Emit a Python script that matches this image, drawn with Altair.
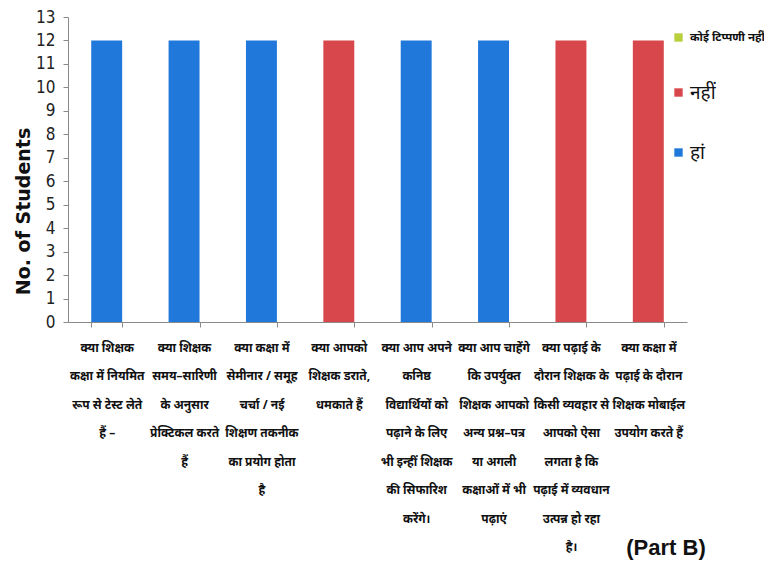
import altair as alt
import pandas as pd

questions = [
    "क्या शिक्षक|कक्षा में नियमित|रूप से टेस्ट लेते|हैं –",
    "क्या शिक्षक|समय–सारिणी|के अनुसार|प्रेक्टिकल करते|हैं",
    "क्या कक्षा में|सेमीनार / समूह|चर्चा / नई|शिक्षण तकनीक|का प्रयोग होता|है",
    "क्या आपको|शिक्षक डराते,|धमकाते हैं",
    "क्या आप अपने|कनिष्ठ|विद्यार्थियों को|पढ़ाने के लिए|भी इन्हीं शिक्षक|की सिफारिश|करेंगे।",
    "क्या आप चाहेंगे|कि उपर्युक्त|शिक्षक आपको|अन्य प्रश्न–पत्र|या अगली|कक्षाओं में भी|पढ़ाएं",
    "क्या पढ़ाई के|दौरान शिक्षक के|किसी व्यवहार से|आपको ऐसा|लगता है कि|पढ़ाई में व्यवधान|उत्पन्न हो रहा|है।",
    "क्या कक्षा में|पढ़ाई के दौरान|शिक्षक मोबाईल|उपयोग करते हैं",
]
answers = ["हां", "हां", "हां", "नहीं", "हां", "हां", "नहीं", "नहीं"]
students = [12, 12, 12, 12, 12, 12, 12, 12]

legend_order = ["कोई टिप्पणी नहीं", "नहीं", "हां"]
legend_colors = ["#B9CF3C", "#D8474B", "#1F78DA"]

df = pd.DataFrame({"question": questions, "answer": answers, "students": students})

DEV = "Noto Sans, Noto Sans Devanagari, Lohit Devanagari, sans-serif"

bars = alt.Chart(df).mark_bar().encode(
    x=alt.X(
        "question:N",
        sort=None,
        scale=alt.Scale(paddingInner=0.6, paddingOuter=0.3),
        axis=alt.Axis(
            title=None,
            labelAngle=0,
            labelExpr="split(datum.label, '|')",
            labelFont=DEV,
            labelFontSize=12,
            labelFontWeight="bold",
            labelColor="#111111",
            labelLineHeight=28.5,
            labelBaseline="top",
            labelPadding=15,
            labelLimit=0,
            tickBand="extent",
            tickSize=5,
            tickColor="#8a8a8a",
            domainColor="#8a8a8a",
        ),
    ),
    y=alt.Y(
        "students:Q",
        scale=alt.Scale(domain=[0, 13]),
        axis=alt.Axis(
            title="No. of Students",
            titleFont="DejaVu Sans",
            titleFontSize=19,
            titleFontWeight="bold",
            titleColor="#111111",
            titleY=194,
            titleX=-45,
            titleAngle=-90,
            titleAlign="center",
            titleBaseline="middle",
            values=list(range(0, 14)),
            labelFont="Liberation Sans Narrow, DejaVu Sans Condensed, sans-serif",
            labelFontSize=17,
            labelColor="#222222",
            labelPadding=8,
            tickSize=5,
            tickColor="#8a8a8a",
            domainColor="#8a8a8a",
            grid=False,
        ),
    ),
    color=alt.Color(
        "answer:N",
        scale=alt.Scale(domain=legend_order, range=legend_colors),
        legend=alt.Legend(
            title=None,
            orient="none",
            legendX=601,
            legendY=11,
            symbolType="square",
            symbolSize=70,
            symbolStrokeWidth=0,
            labelFont=DEV,
            labelFontSize=alt.ExprRef("datum.index == 0 ? 11.5 : 19"),
            labelFontWeight=alt.ExprRef("datum.index == 0 ? 'bold' : 'normal'"),
            labelColor="#111111",
            rowPadding=40,
            labelOffset=2,
        ),
    ),
)

note = alt.Chart(pd.DataFrame({"t": ["(Part B)"]})).mark_text(
    font="Liberation Sans", fontSize=22, fontWeight="bold", color="#111111", align="center", baseline="middle"
).encode(x=alt.value(598), y=alt.value(531), text="t:N")

chart = (
    alt.layer(bars, note)
    .properties(
        width=619,
        height=305,
        autosize=alt.AutoSizeParams(type="none"),
        padding={"left": 60, "top": 9, "right": 77, "bottom": 238},
        background="white",
    )
    .configure_view(stroke=None)
)

chart.save("out.html", embed_options={"renderer": "svg", "actions": False})
